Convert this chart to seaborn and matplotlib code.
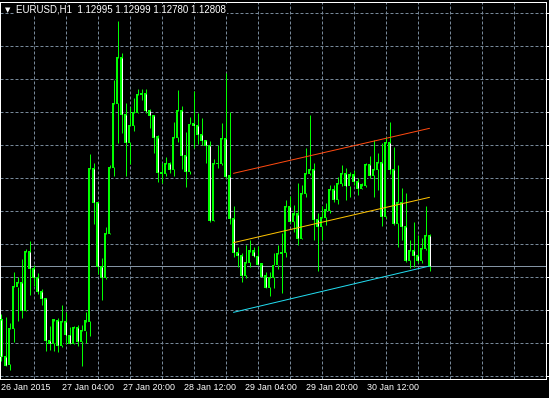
import numpy as np
import pandas as pd
import matplotlib
matplotlib.use("Agg")
import matplotlib.pyplot as plt
import seaborn as sns

# ---------------- data ----------------
header = "EURUSD,H1  1.12995 1.12999 1.12780 1.12808"
open_ = [1.12490, 1.12267, 1.12219, 1.12436, 1.12684, 1.12712, 1.12546, 1.12894, 1.12798, 1.12742,
         1.12656, 1.12614, 1.12362, 1.12344, 1.12486, 1.12332, 1.12478, 1.12396, 1.12346, 1.12440,
         1.12360, 1.12420, 1.12480, 1.13396, 1.13191, 1.12808, 1.12740, 1.13006, 1.13402, 1.13786,
         1.14062, 1.13720, 1.13550, 1.13650, 1.13732, 1.13836, 1.13846, 1.13740, 1.13712, 1.13584,
         1.13370, 1.13366, 1.13426, 1.13390, 1.13582, 1.13740, 1.13470, 1.13376, 1.13662, 1.13652,
         1.13600, 1.13562, 1.13536, 1.13086, 1.13422, 1.13426, 1.13572, 1.13350, 1.13096, 1.12890,
         1.12872, 1.12756, 1.12830, 1.12900, 1.12870, 1.12822, 1.12750, 1.12682, 1.12742, 1.12816,
         1.12886, 1.12892, 1.13166, 1.13076, 1.13122, 1.12976, 1.13246, 1.13366, 1.13390, 1.13090,
         1.13046, 1.13102, 1.13146, 1.13266, 1.13210, 1.13306, 1.13362, 1.13290, 1.13356, 1.13316,
         1.13276, 1.13296, 1.13416, 1.13356, 1.13386, 1.13430, 1.13106, 1.13550, 1.13390, 1.13066,
         1.13190, 1.13046, 1.12842, 1.12902, 1.12872, 1.12842, 1.12916, 1.12995]
high = [1.12522, 1.12504, 1.12468, 1.12774, 1.12746, 1.12854, 1.12914, 1.12960, 1.12816, 1.12766,
        1.12674, 1.12618, 1.12450, 1.12486, 1.12498, 1.12576, 1.12534, 1.12446, 1.12450, 1.12454,
        1.12456, 1.12534, 1.13480, 1.13426, 1.13195, 1.12856, 1.13046, 1.13416, 1.13926, 1.14280,
        1.14086, 1.13786, 1.13766, 1.13816, 1.13870, 1.13872, 1.13870, 1.13752, 1.13716, 1.13596,
        1.13426, 1.13464, 1.13436, 1.13676, 1.13866, 1.13770, 1.13616, 1.13706, 1.13860, 1.13730,
        1.13696, 1.13566, 1.13562, 1.13450, 1.13536, 1.13666, 1.13966, 1.13734, 1.13170, 1.12926,
        1.12886, 1.12936, 1.12966, 1.12926, 1.12930, 1.12830, 1.12776, 1.12776, 1.12886, 1.12936,
        1.13006, 1.13206, 1.13230, 1.13176, 1.13306, 1.13296, 1.13516, 1.13716, 1.13430, 1.13126,
        1.13170, 1.13186, 1.13296, 1.13296, 1.13346, 1.13416, 1.13396, 1.13376, 1.13386, 1.13336,
        1.13306, 1.13426, 1.13470, 1.13566, 1.13486, 1.13548, 1.13586, 1.13676, 1.13526, 1.13416,
        1.13276, 1.13250, 1.12966, 1.13076, 1.12996, 1.12976, 1.13170, 1.12999]
low = [1.12242, 1.12213, 1.12186, 1.12356, 1.12482, 1.12496, 1.12540, 1.12636, 1.12690, 1.12642,
       1.12576, 1.12302, 1.12306, 1.12302, 1.12296, 1.12326, 1.12340, 1.12340, 1.12340, 1.12332,
       1.12210, 1.12350, 1.12392, 1.13065, 1.12765, 1.12606, 1.12734, 1.13002, 1.13352, 1.13550,
       1.13606, 1.13352, 1.13422, 1.13620, 1.13728, 1.13806, 1.13728, 1.13636, 1.13486, 1.13316,
       1.13306, 1.13350, 1.13366, 1.13350, 1.13556, 1.13390, 1.13282, 1.13362, 1.13516, 1.13542,
       1.13534, 1.13426, 1.13076, 1.13082, 1.13398, 1.13416, 1.13336, 1.13062, 1.12862, 1.12806,
       1.12716, 1.12736, 1.12806, 1.12862, 1.12816, 1.12746, 1.12676, 1.12630, 1.12676, 1.12790,
       1.12646, 1.12866, 1.13070, 1.13016, 1.12936, 1.12970, 1.13222, 1.13356, 1.12966, 1.12782,
       1.12966, 1.13056, 1.13126, 1.13196, 1.13182, 1.13290, 1.13206, 1.13226, 1.13296, 1.13236,
       1.13270, 1.13282, 1.13336, 1.13226, 1.13266, 1.13050, 1.13096, 1.13362, 1.13056, 1.12926,
       1.12966, 1.12836, 1.12796, 1.12806, 1.12830, 1.12826, 1.12906, 1.12780]
close = [1.12267, 1.12216, 1.12436, 1.12684, 1.12712, 1.12546, 1.12894, 1.12798, 1.12742, 1.12656,
         1.12614, 1.12362, 1.12344, 1.12486, 1.12332, 1.12478, 1.12396, 1.12346, 1.12440, 1.12360,
         1.12420, 1.12480, 1.13396, 1.13191, 1.12808, 1.12740, 1.13006, 1.13402, 1.13786, 1.14062,
         1.13720, 1.13550, 1.13650, 1.13732, 1.13836, 1.13846, 1.13740, 1.13712, 1.13584, 1.13370,
         1.13366, 1.13426, 1.13390, 1.13582, 1.13740, 1.13470, 1.13376, 1.13662, 1.13652, 1.13600,
         1.13562, 1.13536, 1.13086, 1.13422, 1.13426, 1.13572, 1.13350, 1.13096, 1.12890, 1.12872,
         1.12756, 1.12830, 1.12900, 1.12870, 1.12822, 1.12750, 1.12682, 1.12742, 1.12816, 1.12886,
         1.12892, 1.13166, 1.13076, 1.13122, 1.12976, 1.13246, 1.13366, 1.13390, 1.13090, 1.13046,
         1.13102, 1.13146, 1.13266, 1.13210, 1.13306, 1.13362, 1.13290, 1.13356, 1.13316, 1.13276,
         1.13296, 1.13416, 1.13356, 1.13386, 1.13430, 1.13106, 1.13550, 1.13390, 1.13066, 1.13190,
         1.13046, 1.12842, 1.12902, 1.12872, 1.12842, 1.12916, 1.12995, 1.12808]
time_labels = ["26 Jan 2015", "27 Jan 04:00", "27 Jan 20:00", "28 Jan 12:00",
               "29 Jan 04:00", "29 Jan 20:00", "30 Jan 12:00"]
trend_bars = [58, 107]
red_line = [1.13366, 1.13636]
gold_line = [1.12950, 1.13222]
cyan_line = [1.12532, 1.12810]
bid_price = 1.12808

# ---------------- style ----------------
sns.set_style("dark")
plt.rcParams["font.family"] = ["Liberation Sans", "DejaVu Sans"]

W, H = 549, 398
fig = plt.figure(figsize=(W / 100, H / 100), dpi=100, facecolor="black")
ax_l, ax_r, ax_t, ax_b = 0.0, 546.0, 1.5, 379.0
ax = fig.add_axes([ax_l / W, (H - ax_b) / H, (ax_r - ax_l) / W, (ax_b - ax_t) / H])
ax.set_facecolor("black")

df = pd.DataFrame({"open": open_, "high": high, "low": low, "close": close})
df["bar"] = np.arange(len(df))

ymin, ymax = 1.12132, 1.14397
ax.set_xlim(-0.375, 136.125)
ax.set_ylim(ymin, ymax)
px = (ymax - ymin) / (ax_b - ax_t)
lw1 = 0.72  # 1 pixel

grid_col = "#778899"
# grid
for xg in np.arange(8, 137, 8):
    ax.axvline(xg, color=grid_col, lw=lw1, ls=(0, (3, 2)), zorder=0.5)
grid_prices = 1.14326 - 0.00198 * np.arange(12)
for yg in grid_prices:
    ax.axhline(yg, color=grid_col, lw=lw1, ls=(0, (3, 2)), zorder=0.5)

# bid line
ax.axhline(bid_price, color="#8494a4", lw=lw1, zorder=0.8)

lime = "#00ff00"
# wicks
ax.vlines(df["bar"], df["low"], df["high"], color=lime, lw=lw1, zorder=2)
# bodies
lo = np.minimum(df["open"], df["close"])
hi = np.maximum(df["open"], df["close"])
ax.bar(df["bar"], (hi - lo) + px, bottom=lo - px / 2, width=0.75, color=lime,
       linewidth=0, zorder=3)
bear = df["close"] < df["open"]
inner = (hi - lo) > 1.5 * px
for b, l, h, is_bear, ok in zip(df["bar"], lo, hi, bear, inner):
    if ok:
        ax.vlines(b, l + px / 2, h - px / 2, color="white" if is_bear else "black",
                  lw=lw1, zorder=4)

# trend lines
for vals, col in [(red_line, "#ff4a10"), (gold_line, "#ffc400"), (cyan_line, "#22dcf0")]:
    sns.lineplot(x=trend_bars, y=vals, color=col, lw=lw1, ax=ax, zorder=5)

# frame
for s in ax.spines.values():
    s.set_color("white")
    s.set_linewidth(lw1)

# y ticks (right side, no labels)
ax.yaxis.tick_right()
ax.set_yticks(grid_prices)
ax.set_yticklabels([])
ax.tick_params(axis="y", which="major", direction="out", length=2.2, width=lw1,
               color="white", right=True, left=False)

# x ticks
step = 15.25
major_pos = -0.125 + step * np.arange(len(time_labels))
minor_pos = -0.125 + step / 2 * np.arange(1, 18)
minor_pos = [p for p in minor_pos if not np.any(np.isclose(p, major_pos))]
ax.set_xticks(major_pos)
ax.set_xticklabels(time_labels, ha="left", color="white", fontsize=6.4)
ax.set_xticks(minor_pos, minor=True)
ax.tick_params(axis="x", which="major", direction="inout", length=4.3, width=lw1,
               color="white", pad=1)
ax.tick_params(axis="x", which="minor", direction="in", length=4.0, width=lw1,
               color="#c0c8d0")
ax.set_xlabel("")
ax.set_ylabel("")
ax.grid(False)

# header
fig.text(5 / W, 1 - 12.0 / H, "\u25bc", color="white", fontsize=5,
         family=["DejaVu Sans"], va="baseline", ha="left")
fig.text(16 / W, 1 - 12.5 / H, header, color="white", fontsize=7.0, va="baseline",
         ha="left", bbox=dict(facecolor="black", edgecolor="none", pad=0.5))

fig.savefig("out.png", dpi=100, facecolor="black")
